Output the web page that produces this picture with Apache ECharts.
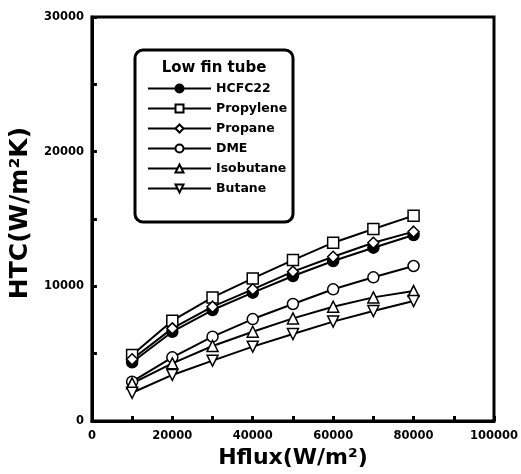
<!DOCTYPE html>
<html>
<head>
<meta charset="utf-8">
<script src="https://cdn.jsdelivr.net/npm/echarts@6/dist/echarts.min.js"></script>
<style>
  html, body { margin: 0; padding: 0; background: #fff; }
  #main { width: 521px; height: 474px; }
</style>
</head>
<body>
<div id="main"></div>
<script>
// heat flux (W/m2)
var hflux = [10000, 20000, 30000, 40000, 50000, 60000, 70000, 80000]
// HTC values
var hcfc22 = [4360, 6630, 8240, 9530, 10770, 11880, 12870, 13810]
var propylene = [4900, 7450, 9180, 10590, 11950, 13240, 14260, 15250]
var propane = [4580, 6880, 8490, 9780, 11090, 12200, 13240, 14060]
var dme = [2920, 4730, 6260, 7570, 8690, 9780, 10670, 11510]
var isobutane = [2800, 4280, 5570, 6630, 7620, 8490, 9180, 9650]
var butane = [2100, 3420, 4480, 5520, 6460, 7380, 8170, 8910]

var FONT = 'DejaVu Sans'

function pairs (ys) {
  return hflux.map(function (x, i) { return [x, ys[i]] })
}

function makeSeries (name, data, symbol, fill) {
  return {
    name: name,
    type: 'line',
    data: pairs(data),
    symbol: symbol,
    symbolSize: 11,
    lineStyle: { color: '#000', width: 2 },
    itemStyle: { color: fill, borderColor: '#000', borderWidth: 1.5 },
    emphasis: { disabled: true },
    z: 3
  }
}

var myChart = echarts.init(document.getElementById('main'))
myChart.setOption({
  animation: false,
  backgroundColor: '#fff',
  grid: {
    left: 90,
    right: 26,
    top: 17,
    bottom: 53,
    show: true,
    borderColor: '#000',
    borderWidth: 3
  },
  xAxis: {
    type: 'value',
    min: 0,
    max: 100000,
    interval: 10000,
    name: 'Hflux(W/m²)',
    nameLocation: 'middle',
    nameGap: 26,
    nameTextStyle: { fontFamily: FONT, fontWeight: 'bold', fontSize: 22, color: '#000' },
    axisLine: { lineStyle: { color: '#000', width: 3 } },
    axisTick: { inside: true, length: 5, lineStyle: { color: '#000', width: 3 } },
    axisLabel: {
      margin: 9,
      fontFamily: FONT,
      fontWeight: 'bold',
      fontSize: 11.5,
      color: '#000',
      formatter: function (v) { return v % 20000 === 0 ? String(v) : '' }
    },
    splitLine: { show: false }
  },
  yAxis: {
    type: 'value',
    min: 0,
    max: 30000,
    interval: 5000,
    name: 'HTC(W/m²K)',
    nameLocation: 'middle',
    nameGap: 58,
    nameTextStyle: { fontFamily: FONT, fontWeight: 'bold', fontSize: 25, color: '#000', padding: [0, 0, 0, 12] },
    axisLine: { lineStyle: { color: '#000', width: 3 } },
    axisTick: { inside: true, length: 5, lineStyle: { color: '#000', width: 3 } },
    axisLabel: {
      margin: 8,
      fontFamily: FONT,
      fontWeight: 'bold',
      fontSize: 11.5,
      color: '#000',
      formatter: function (v) { return v % 10000 === 0 ? String(v) : '' }
    },
    splitLine: { show: false }
  },
  legend: {
    orient: 'vertical',
    left: 142,
    top: 77,
    itemWidth: 63,
    itemHeight: 10,
    itemGap: 7,
    selectedMode: false,
    textStyle: { fontFamily: FONT, fontWeight: 'bold', fontSize: 12.5, color: '#000' },
    data: ['HCFC22', 'Propylene', 'Propane', 'DME', 'Isobutane', 'Butane']
  },
  graphic: [
    {
      type: 'rect',
      shape: { x: 135, y: 50, width: 158, height: 172, r: 8 },
      style: { fill: '#fff', stroke: '#000', lineWidth: 3 },
      z: 1
    },
    {
      type: 'text',
      x: 214,
      y: 68,
      style: {
        text: 'Low fin tube',
        fontFamily: FONT,
        fontWeight: 'bold',
        fontSize: 15,
        fill: '#000',
        align: 'center',
        verticalAlign: 'middle'
      },
      z: 2
    }
  ],
  series: [
    makeSeries('HCFC22', hcfc22, 'circle', '#000'),
    makeSeries('Propylene', propylene, 'rect', '#fff'),
    makeSeries('Propane', propane, 'diamond', '#fff'),
    makeSeries('DME', dme, 'circle', '#fff'),
    makeSeries('Isobutane', isobutane, 'triangle', '#fff'),
    makeSeries('Butane', butane, 'path://M0,0L10,0L5,9Z', '#fff')
  ]
})
</script>
</body>
</html>
